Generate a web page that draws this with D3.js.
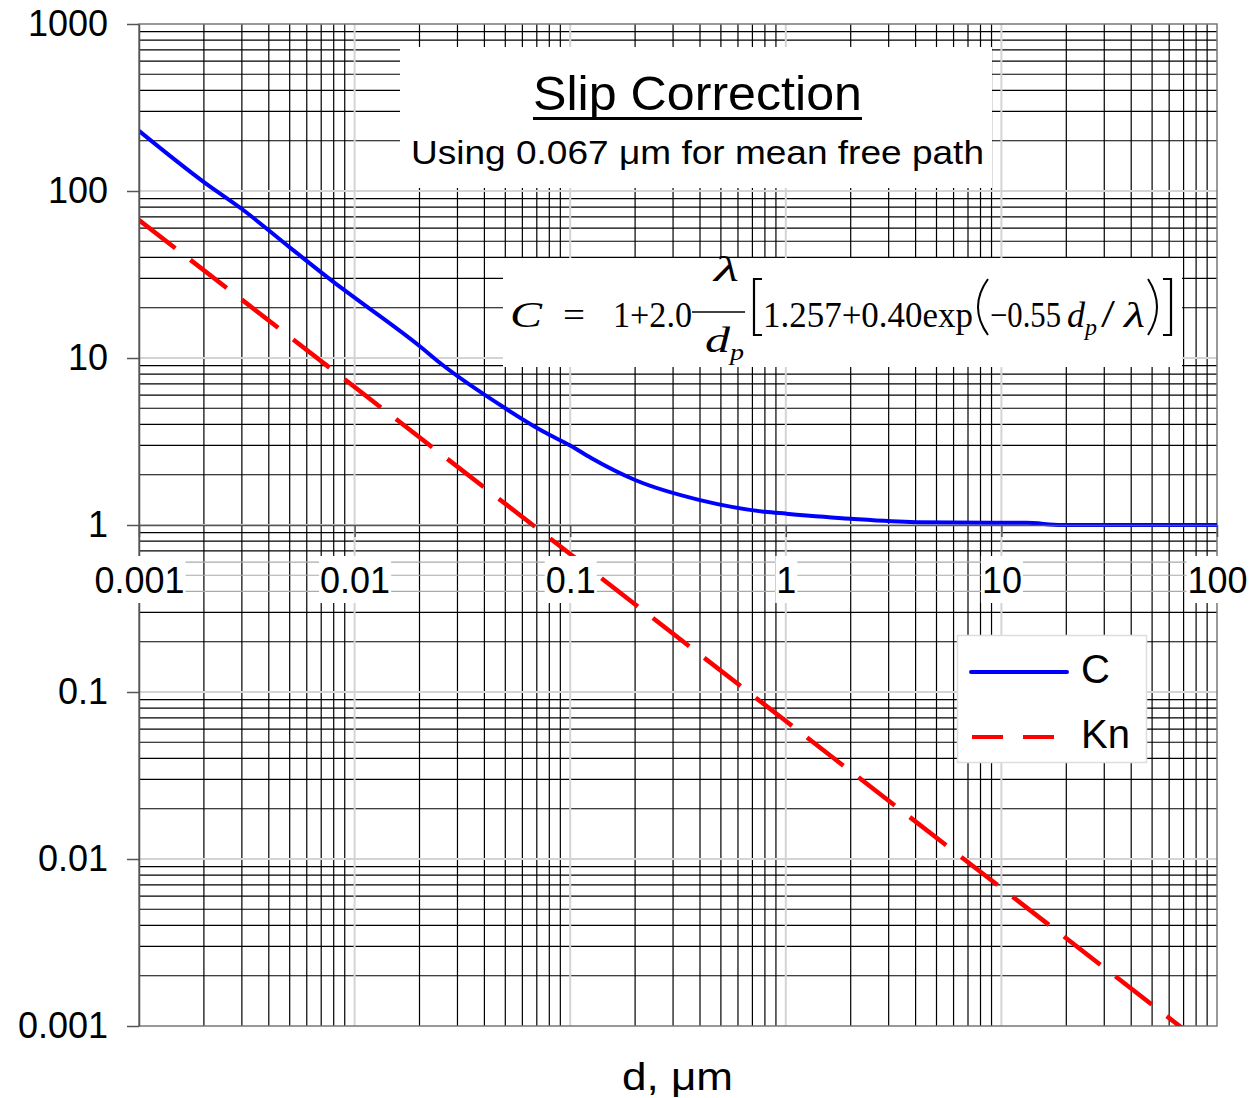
<!DOCTYPE html>
<meta charset="utf-8">
<style>
body { margin: 0; background: #fff; }
text { font-family: "Liberation Sans", Arial, sans-serif; fill: #000; }
.tick text { font-size: 36px; }
.math { font-family: "Liberation Serif", "Times New Roman", serif; font-size: 36px; }
.it { font-style: italic; }
</style>
<body>
<script src="https://cdnjs.cloudflare.com/ajax/libs/d3/7.8.5/d3.min.js"></script>
<script>

// particle diameter, um
var dVals = [0.001, 0.002, 0.003, 0.005, 0.008, 0.01, 0.02, 0.025, 0.05, 0.075,
             0.1, 0.125, 0.2, 0.4, 0.8, 1, 2, 4, 9, 13, 19, 50, 100];
// slip correction C
var cVals = [229, 113, 78, 46, 28.5, 23.0, 11.8, 9.3, 5.0, 3.63,
             2.99, 2.52, 1.86, 1.41, 1.20, 1.17, 1.09, 1.04, 1.03, 1.03, 1.0, 1.0, 1.0];

// Knudsen number
var dKn = [0.001, 0.01, 0.1, 1, 10, 100];
var knVals = [67, 6.7, 0.67, 0.067, 0.0067, 0.00067];

var xTicks = [0.001, 0.01, 0.1, 1, 10, 100];
var xTickLabels = ["0.001", "0.01", "0.1", "1", "10", "100"];
var yTicks = [0.001, 0.01, 0.1, 1, 10, 100, 1000];
var yTickLabels = ["0.001", "0.01", "0.1", "1", "10", "100", "1000"];

var width = 1253,
    height = 1098;

var pLeft = 139, pRight = 1217, pTop = 24, pBottom = 1026;

var x = d3.scaleLog().domain([0.001, 100]).range([pLeft, pRight]);
var y = d3.scaleLog().domain([0.001, 1000]).range([pBottom, pTop]);

var svg = d3.select("body").append("svg")
    .attr("width", width)
    .attr("height", height);

svg.append("defs").append("clipPath")
    .attr("id", "plot")
  .append("rect")
    .attr("x", pLeft).attr("y", pTop)
    .attr("width", pRight - pLeft).attr("height", pBottom - pTop);

// minor values 2..9 of each decade
function minors(domain) {
  var out = [];
  for (var e = Math.round(Math.log10(domain[0])); e < Math.round(Math.log10(domain[1])); e++) {
    for (var k = 2; k <= 9; k++) out.push(k * Math.pow(10, e));
  }
  return out;
}

var grid = svg.append("g");

// label band under the x axis, where the minor horizontals look lighter
function inBand(v) { return y(v) > 554 && y(v) < 604; }

grid.selectAll(".vminor")
    .data(minors(x.domain()))
  .enter().append("line")
    .attr("x1", function(d) { return x(d); })
    .attr("x2", function(d) { return x(d); })
    .attr("y1", pTop).attr("y2", pBottom)
    .attr("stroke", "#000")
    .attr("stroke-width", 1.2);

grid.selectAll(".hminor")
    .data(minors(y.domain()))
  .enter().append("line")
    .attr("x1", pLeft).attr("x2", pRight)
    .attr("y1", function(d) { return y(d); })
    .attr("y2", function(d) { return y(d); })
    .attr("stroke", function(d) { return inBand(d) ? "#aaa" : "#000"; })
    .attr("stroke-width", 1.2);

grid.selectAll(".vmajor")
    .data(xTicks.slice(1, -1))
  .enter().append("line")
    .attr("x1", function(d) { return x(d); })
    .attr("x2", function(d) { return x(d); })
    .attr("y1", pTop).attr("y2", pBottom)
    .attr("stroke", "#d4d4d4")
    .attr("stroke-width", 2);

grid.selectAll(".hmajor")
    .data(yTicks.slice(1, -1))
  .enter().append("line")
    .attr("x1", pLeft).attr("x2", pRight)
    .attr("y1", function(d) { return y(d); })
    .attr("y2", function(d) { return y(d); })
    .attr("stroke", "#d4d4d4")
    .attr("stroke-width", 2);

svg.append("rect")
    .attr("x", pLeft).attr("y", pTop)
    .attr("width", pRight - pLeft).attr("height", pBottom - pTop)
    .attr("fill", "none")
    .attr("stroke", "#777")
    .attr("stroke-width", 1.5);

// curves
var line = d3.line()
    .x(function(d) { return x(d[0]); })
    .y(function(d) { return y(d[1]); });

var plot = svg.append("g").attr("clip-path", "url(#plot)");

plot.append("path")
    .datum(dKn.map(function(d, i) { return [d, knVals[i]]; }))
    .attr("d", line)
    .attr("fill", "none")
    .attr("stroke", "#ff0000")
    .attr("stroke-width", 4.5)
    .attr("stroke-dasharray", "46,19");

plot.append("path")
    .datum(dVals.map(function(d, i) { return [d, cVals[i]]; }))
    .attr("d", line.curve(d3.curveMonotoneX))
    .attr("fill", "none")
    .attr("stroke", "#0000ff")
    .attr("stroke-width", 4)
    .attr("stroke-linejoin", "round");

// axes
var yAxis = svg.append("g")
    .attr("transform", "translate(" + pLeft + ",0)")
    .call(d3.axisLeft(y)
      .tickValues(yTicks)
      .tickFormat(function(d, i) { return yTickLabels[i]; })
      .tickSize(12)
      .tickSizeOuter(0)
      .tickPadding(19));

var xAxis = svg.append("g")
    .attr("transform", "translate(0," + y(1) + ")")
    .call(d3.axisBottom(x)
      .tickValues(xTicks)
      .tickFormat(function(d, i) { return xTickLabels[i]; })
      .tickSize(12)
      .tickSizeOuter(0)
      .tickPadding(30));

[yAxis, xAxis].forEach(function(a) {
  a.select(".domain").attr("stroke", "#555").attr("stroke-width", 1.5);
  a.selectAll(".tick line").attr("stroke", "#555").attr("stroke-width", 1.5);
  a.selectAll(".tick text").attr("fill", "#000").style("font-size", "36px")
      .style("font-family", "'Liberation Sans', Arial, sans-serif");
});

// white boxes behind the x tick labels
xAxis.selectAll(".tick").each(function() {
  var t = d3.select(this).select("text");
  var b = t.node().getBBox();
  d3.select(this).insert("rect", "text")
      .attr("x", b.x - 1).attr("width", b.width + 2)
      .attr("y", 556 - y(1)).attr("height", 47)
      .attr("fill", "#fff");
});

// title box
svg.append("rect")
    .attr("x", 400).attr("y", 47).attr("width", 592).attr("height", 141)
    .attr("fill", "#fff");

svg.append("text")
    .attr("x", 533).attr("y", 110)
    .attr("textLength", 329).attr("lengthAdjust", "spacingAndGlyphs")
    .style("font-size", "49px")
    .text("Slip Correction");

svg.append("line")
    .attr("x1", 533).attr("x2", 862)
    .attr("y1", 118.5).attr("y2", 118.5)
    .attr("stroke", "#000").attr("stroke-width", 3);

svg.append("text")
    .attr("x", 411).attr("y", 164)
    .attr("textLength", 573).attr("lengthAdjust", "spacingAndGlyphs")
    .style("font-size", "34px")
    .text("Using 0.067 \u03bcm for mean free path");

// formula box
svg.append("rect")
    .attr("x", 503).attr("y", 258).attr("width", 679).attr("height", 109)
    .attr("fill", "#fff");

var f = svg.append("g");

function mt(xp, yp, str, len, cls, size) {
  var t = f.append("text")
      .attr("class", "math " + (cls || ""))
      .attr("x", xp).attr("y", yp)
      .text(str);
  if (len) t.attr("textLength", len).attr("lengthAdjust", "spacingAndGlyphs");
  if (size) t.style("font-size", size + "px");
  return t;
}

mt(510, 327, "C", 32, "it");
mt(563, 327, "=", 22);
mt(613, 327, "1+2.0", 79);
mt(714, 281, "\u03bb", 25, "it");
f.append("line")
    .attr("x1", 692).attr("x2", 745).attr("y1", 312).attr("y2", 312)
    .attr("stroke", "#000").attr("stroke-width", 1.5);
mt(705, 352, "d", 25, "it");
mt(730, 360, "p", 14, "it", 24);
f.append("path")
    .attr("d", "M762,279 L754,279 L754,335 L762,335")
    .attr("fill", "none").attr("stroke", "#000").attr("stroke-width", 2.2);
mt(763, 327, "1.257+0.40exp", 210);
f.append("path")
    .attr("d", "M988,279 Q968,307 988,335")
    .attr("fill", "none").attr("stroke", "#000").attr("stroke-width", 2);
mt(990, 327, "\u22120.55", 71);
mt(1067, 327, "d", 18, "it");
mt(1085, 335, "p", 12, "it", 24);
mt(1101, 327, "/", 14, null, 40);
mt(1124, 327, "\u03bb", 21, "it");
f.append("path")
    .attr("d", "M1148,279 Q1166,307 1148,335")
    .attr("fill", "none").attr("stroke", "#000").attr("stroke-width", 2);
f.append("path")
    .attr("d", "M1163,279 L1171,279 L1171,335 L1163,335")
    .attr("fill", "none").attr("stroke", "#000").attr("stroke-width", 2.2);

// x axis title
svg.append("text")
    .attr("x", 622).attr("y", 1090)
    .attr("textLength", 111).attr("lengthAdjust", "spacingAndGlyphs")
    .style("font-size", "39px")
    .text("d, \u03bcm");

// legend
var legend = svg.append("g");

legend.append("rect")
    .attr("x", 957.5).attr("y", 635.5).attr("width", 189).attr("height", 127)
    .attr("fill", "#fff")
    .attr("stroke", "#ddd")
    .attr("stroke-width", 1.5);

legend.append("line")
    .attr("x1", 971).attr("x2", 1067).attr("y1", 672).attr("y2", 672)
    .attr("stroke", "#0000ff").attr("stroke-width", 4)
    .attr("stroke-linecap", "round");

legend.append("text")
    .attr("x", 1081).attr("y", 683)
    .style("font-size", "40px")
    .text("C");

legend.append("line")
    .attr("x1", 972).attr("x2", 1057).attr("y1", 737).attr("y2", 737)
    .attr("stroke", "#ff0000").attr("stroke-width", 4)
    .attr("stroke-dasharray", "31,20");

legend.append("text")
    .attr("x", 1081).attr("y", 748)
    .style("font-size", "40px")
    .text("Kn");

</script>
